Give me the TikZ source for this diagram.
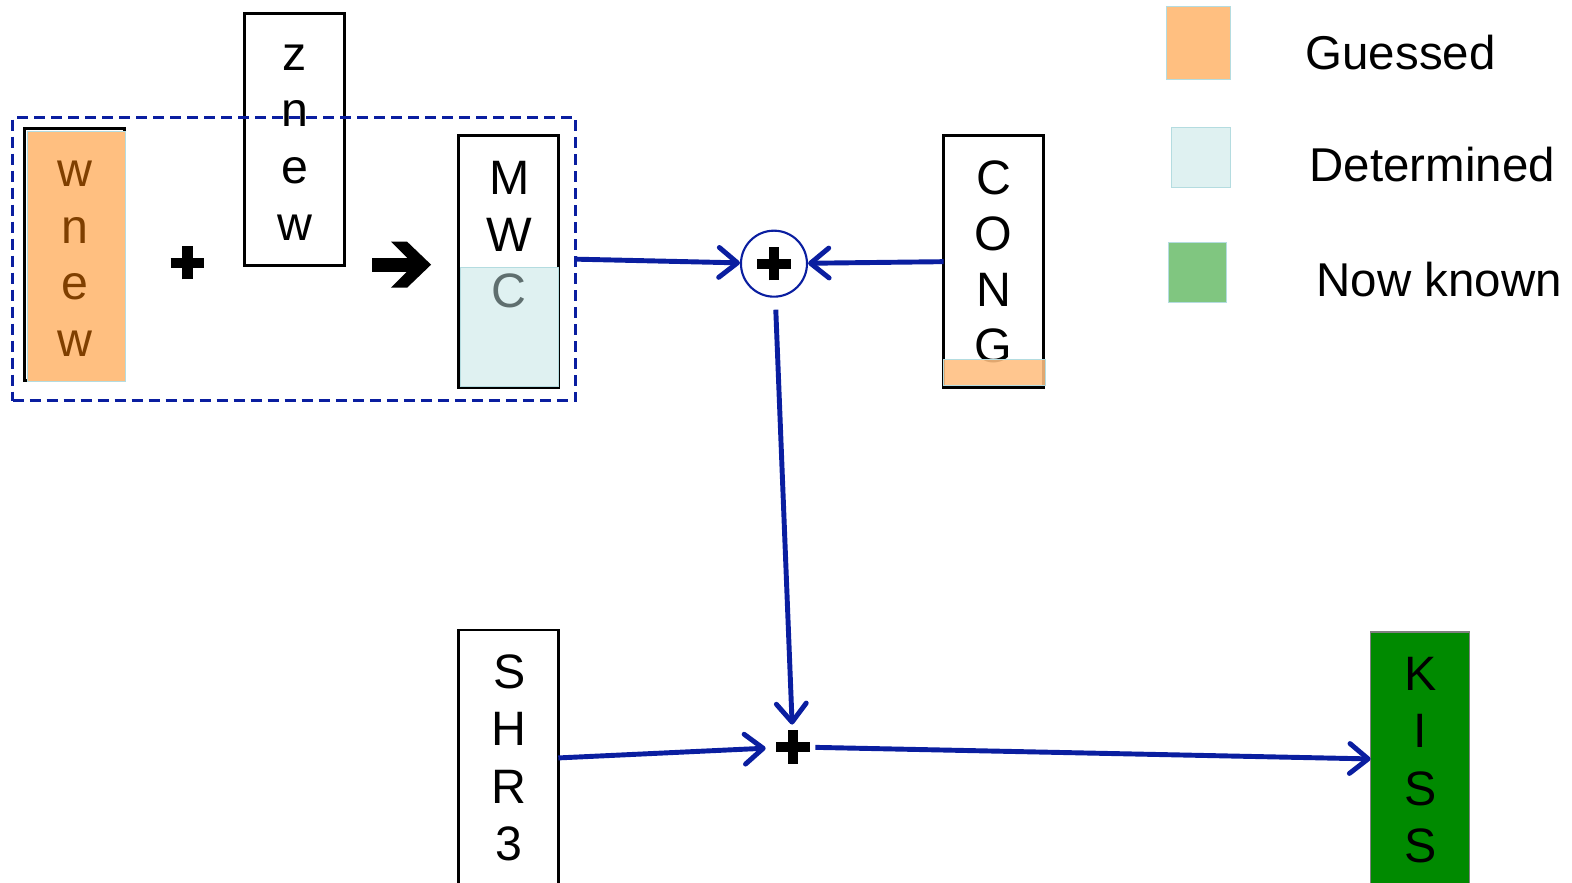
\documentclass[tikz,border=0pt]{standalone}
\usepackage{fontspec}
\setmainfont{Liberation Sans}
\usetikzlibrary{arrows.meta}

\definecolor{guess}{HTML}{FFBF80}
\definecolor{determ}{HTML}{DFF1F1}
\definecolor{known}{HTML}{80C680}
\definecolor{kissgreen}{HTML}{008A00}
\definecolor{flow}{HTML}{0A1EA0}
\definecolor{edgecyan}{HTML}{B4DCE0}
\definecolor{brownish}{HTML}{7F3F00}
\definecolor{grayc}{HTML}{5F6F6F}

\begin{document}
\begin{tikzpicture}[x=0.020051cm,y=-0.020051cm,
  box/.style={draw=black, line width=1.6pt, fill=white, minimum width=2cm,
    inner sep=0pt, outer sep=0pt},
  letter/.style={anchor=base, inner sep=0pt, font=\fontsize{27.5}{30}\selectfont},
  legtext/.style={anchor=base west, inner sep=0pt, font=\fontsize{27}{30}\selectfont},
  swatch/.style={draw=edgecyan, line width=0.6pt, inner sep=0pt, outer sep=0pt},
  flowline/.style={draw=flow, line width=2.8pt,
    -{Straight Barb[length=10.5pt,width=17pt,line width=2.8pt,round]}},
  plusmark/.style={path picture={\draw[black, line width=5.8pt]
      ([xshift=-0.335cm]path picture bounding box.center) --
      ([xshift=0.335cm]path picture bounding box.center)
      ([yshift=-0.335cm]path picture bounding box.center) --
      ([yshift=0.335cm]path picture bounding box.center);}},
]
\useasboundingbox (0,0) rectangle (1568,879.8);
\fill[white] (0,0) rectangle (1568,879.8);

% guessed word wnew
\node[box, minimum height=5.04cm] (wnewbox) at (74,254) {};
\node[swatch, fill=guess, minimum width=1.96cm, minimum height=5cm] (wnewfill) at (76,256) {};
\foreach \t [count=\i] in {w,n,e,w}
  \node[letter, text=brownish] (wnew\i) at (75,{186+56.5*(\i-1)}) {\t};

% plus sign
\node[minimum size=0.7cm, inner sep=0pt, plusmark] (plusA) at (187,262) {};

% znew word
\node[box, minimum height=5.04cm] (znewbox) at (294,139) {};
\foreach \t [count=\i] in {z,n,e,w}
  \node[letter] (znew\i) at (294,{70+56.5*(\i-1)}) {\t};

% heavy arrow
\fill[black] (371,257) rectangle (416,271);
\fill[black] (390,241) -- (406,241) -- (430,264) -- (406,287) -- (390,287) -- (413,264) -- cycle;

% MWC word with determined part
\node[box, minimum height=5.04cm] (MWC) at (507,261) {};
\node[swatch, fill=determ, minimum width=1.96cm, minimum height=2.38cm] (mwcdet) at (508,326) {};
\node[letter] (mwc1) at (508,194) {M};
\node[letter] (mwc2) at (508,250.5) {W};
\node[letter, text=grayc] (mwc3) at (508,307) {C};

% dashed group
\node[draw=flow, line width=1.5pt, dash pattern=on 0.22cm off 0.12cm,
  minimum width=11.26cm, minimum height=5.66cm, inner sep=0pt, outer sep=0pt] (grp) at (293.5,258.5) {};

% CONG word
\node[box, minimum height=5.04cm] (CONG) at (991,261) {};
\foreach \t [count=\i] in {C,O,N,G}
  \node[letter] (cong\i) at (991,{194+56*(\i-1)}) {\t};
\node[swatch, fill=guess, fill opacity=0.88, minimum width=2.04cm, minimum height=0.52cm] (congguess) at (992,372) {};

% summation points
\node[circle, draw=flow, line width=1.2pt, minimum size=1.32cm, inner sep=0pt, plusmark] (sumA) at (772,263) {};
\node[circle, minimum size=0.88cm, inner sep=0pt, plusmark] (sumB) at (791,745) {};

% SHR3 word
\node[box, minimum height=5.12cm] (SHR3) at (507,756) {};
\foreach \t [count=\i] in {S,H,R,3}
  \node[letter] (shr\i) at (508,{687+57*(\i-1)}) {\t};

% KISS word
\node[box, draw=gray, line width=0.8pt, fill=kissgreen, minimum width=1.98cm, minimum height=5.08cm] (KISS) at (1416.5,757) {};
\foreach \t [count=\i] in {K,I,S,S}
  \node[letter] (kiss\i) at (1416.5,{689+57*(\i-1)}) {\t};

% connectors
\draw[flowline] (grp.east) -- (sumA);
\draw[flowline] (CONG.west) -- (sumA);
\draw[flowline, shorten <=0.24cm] (sumA) -- (sumB);
\draw[flowline, shorten >=0.1cm] (SHR3.east) -- (sumB);
\draw[flowline] (sumB) -- (KISS.west);

% legend
\node[swatch, fill=guess, minimum width=1.28cm, minimum height=1.46cm] (legG) at (1195,42.5) {};
\node[swatch, fill=determ, minimum width=1.18cm, minimum height=1.2cm] (legD) at (1197.5,157) {};
\node[swatch, fill=known, minimum width=1.16cm, minimum height=1.2cm] (legK) at (1194,272) {};
\node[legtext] (legGt) at (1302,69) {Guessed};
\node[legtext] (legDt) at (1306,181) {Determined};
\node[legtext] (legKt) at (1313,296) {Now known};
\end{tikzpicture}
\end{document}
